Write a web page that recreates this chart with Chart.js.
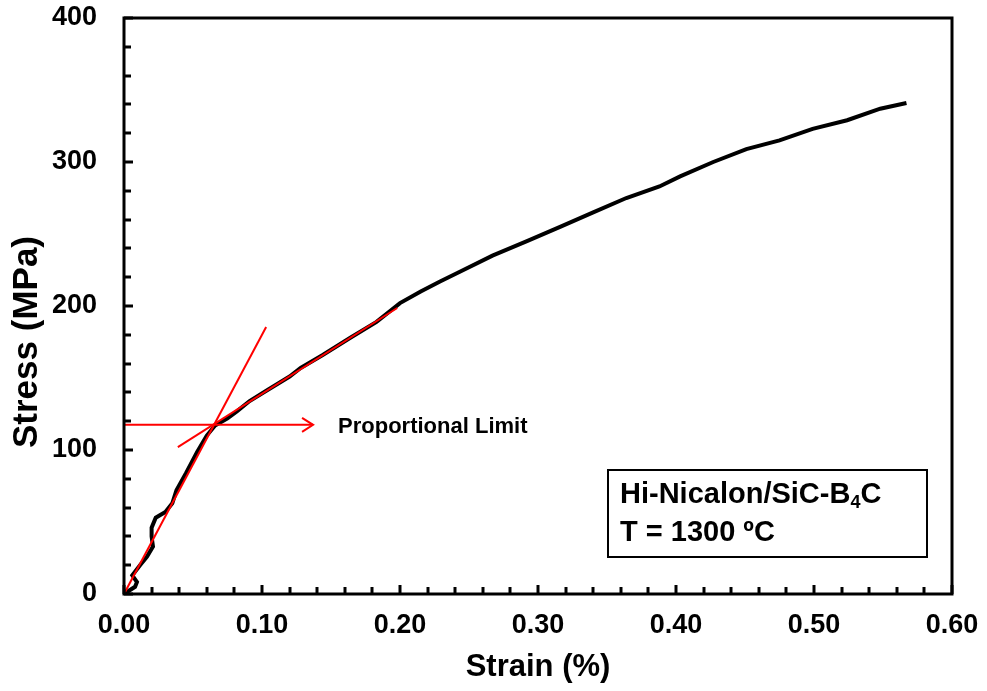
<!DOCTYPE html>
<html>
<head>
<meta charset="utf-8">
<script src="https://cdn.jsdelivr.net/npm/chart.js@4.4.1/dist/chart.umd.min.js"></script>
<style>
  html, body { margin: 0; padding: 0; background: #fff; }
  canvas { display: block; }
</style>
</head>
<body>
<canvas id="chart" width="987" height="691"></canvas>
<script>
// measured stress-strain curve (strain in %, stress in MPa)
const strain = [0, 0.008, 0.0094, 0.006, 0.0116, 0.0167, 0.021, 0.02, 0.02, 0.023, 0.03, 0.035,
  0.038, 0.045, 0.053, 0.06, 0.066, 0.075, 0.082, 0.091, 0.104, 0.12, 0.128, 0.144, 0.164, 0.183,
  0.2, 0.215, 0.229, 0.243, 0.267, 0.292, 0.316, 0.34, 0.364, 0.388, 0.403, 0.427, 0.451, 0.475,
  0.499, 0.524, 0.548, 0.567];
const stress = [0, 5, 8.3, 13, 20, 26, 33, 40, 46, 53, 57, 63,
  72, 84, 98.6, 110, 117, 122, 127, 134, 141.7, 151, 157, 166, 178, 189,
  202, 210, 217, 223.6, 235, 245, 255, 265, 275, 283, 290, 300, 309, 315,
  323, 329, 337, 341];

// construction lines
const elasticLineX = [0, 0.103];
const elasticLineY = [0, 185.4];
const secondLineX = [0.039, 0.198];
const secondLineY = [102, 198.6];
const limitArrowX = [0, 0.137];
const limitArrowY = [117.5, 117.5];

const xTicks = [0, 0.1, 0.2, 0.3, 0.4, 0.5, 0.6];
const yTicks = [0, 100, 200, 300, 400];

const toPoints = (xs, ys) => xs.map((x, i) => ({ x: x, y: ys[i] }));

const FONT = 'Arial, "Liberation Sans", sans-serif';

const decorations = {
  id: 'decorations',
  afterDraw(chart) {
    const ctx = chart.ctx;
    const area = chart.chartArea;
    const xs = chart.scales.x;
    const ys = chart.scales.y;
    ctx.save();

    // frame
    ctx.strokeStyle = '#000';
    ctx.lineWidth = 3;
    ctx.strokeRect(area.left, area.top, area.right - area.left, area.bottom - area.top);

    // inward tick marks
    for (let i = 0; i <= 30; i++) {
      const px = Math.round(xs.getPixelForValue(i * 0.02));
      const len = i % 5 === 0 ? 9 : 7;
      ctx.beginPath();
      ctx.moveTo(px, area.bottom);
      ctx.lineTo(px, area.bottom - len);
      ctx.stroke();
    }
    for (let i = 0; i <= 20; i++) {
      const py = Math.round(ys.getPixelForValue(i * 20));
      const len = i % 5 === 0 ? 9 : 7;
      ctx.beginPath();
      ctx.moveTo(area.left, py);
      ctx.lineTo(area.left + len, py);
      ctx.stroke();
    }

    // arrow head + label
    const tip = chart.getDatasetMeta(2).data[1];
    ctx.strokeStyle = '#ff0000';
    ctx.lineWidth = 2;
    ctx.beginPath();
    ctx.moveTo(tip.x - 11, tip.y - 7);
    ctx.lineTo(tip.x, tip.y);
    ctx.lineTo(tip.x - 11, tip.y + 7);
    ctx.stroke();

    ctx.fillStyle = '#000';
    ctx.font = 'bold 22px ' + FONT;
    ctx.textBaseline = 'middle';
    ctx.textAlign = 'left';
    ctx.fillText('Proportional Limit', tip.x + 25, tip.y + 2);

    // info box
    ctx.lineWidth = 2;
    ctx.strokeStyle = '#000';
    ctx.strokeRect(608, 470, 319, 87);
    ctx.font = 'bold 29px ' + FONT;
    let tx = 620;
    const t1 = 'Hi-Nicalon/SiC-B';
    ctx.fillText(t1, tx, 495);
    tx += ctx.measureText(t1).width;
    ctx.font = 'bold 18px ' + FONT;
    ctx.fillText('4', tx, 503);
    tx += ctx.measureText('4').width;
    ctx.font = 'bold 29px ' + FONT;
    ctx.fillText('C', tx, 495);
    ctx.fillText('T = 1300 \u00BAC', 620, 533);

    // axis titles
    ctx.font = 'bold 31px ' + FONT;
    ctx.textAlign = 'center';
    ctx.fillText('Strain (%)', 538, 667);
    ctx.translate(27, 342);
    ctx.rotate(-Math.PI / 2);
    ctx.font = 'bold 35px ' + FONT;
    ctx.fillText('Stress (MPa)', 0, 0);
    ctx.restore();
  }
};

new Chart(document.getElementById('chart'), {
  type: 'line',
  data: {
    datasets: [
      {
        label: 'Stress-strain',
        data: toPoints(strain, stress),
        borderColor: '#000',
        borderWidth: 4,
        pointRadius: 0,
        tension: 0,
        order: 3,
      },
      {
        label: 'Initial slope',
        data: toPoints(elasticLineX, elasticLineY),
        borderColor: '#ff0000',
        borderWidth: 2,
        pointRadius: 0,
        order: 1,
      },
      {
        label: 'Proportional limit',
        data: toPoints(limitArrowX, limitArrowY),
        borderColor: '#ff0000',
        borderWidth: 2,
        pointRadius: 0,
        order: 1,
      },
      {
        label: 'Second slope',
        data: toPoints(secondLineX, secondLineY),
        borderColor: '#ff0000',
        borderWidth: 2,
        pointRadius: 0,
        order: 1,
      },
    ],
  },
  options: {
    responsive: false,
    animation: false,
    layout: { padding: { top: 18, right: 35, left: 0, bottom: 0 } },
    plugins: { legend: { display: false }, tooltip: { enabled: false } },
    scales: {
      x: {
        type: 'linear',
        min: 0,
        max: 0.6,
        grid: { display: false },
        border: { display: false },
        afterBuildTicks: (scale) => { scale.ticks = xTicks.map((v) => ({ value: v })); },
        afterFit: (scale) => {
          scale.height = 97;
          scale.paddingLeft = 0;
          scale.paddingRight = 0;
        },
        ticks: {
          color: '#000',
          padding: 7,
          maxRotation: 0,
          font: { family: FONT, size: 27, weight: 'bold' },
          callback: (v) => Number(v).toFixed(2),
        },
      },
      y: {
        type: 'linear',
        min: 0,
        max: 400,
        grid: { display: false },
        border: { display: false },
        afterBuildTicks: (scale) => { scale.ticks = yTicks.map((v) => ({ value: v })); },
        afterFit: (scale) => {
          scale.width = 124;
          scale.paddingTop = 0;
          scale.paddingBottom = 0;
        },
        ticks: {
          color: '#000',
          padding: 19,
          font: { family: FONT, size: 27, weight: 'bold' },
        },
      },
    },
  },
  plugins: [decorations],
});
</script>
</body>
</html>
